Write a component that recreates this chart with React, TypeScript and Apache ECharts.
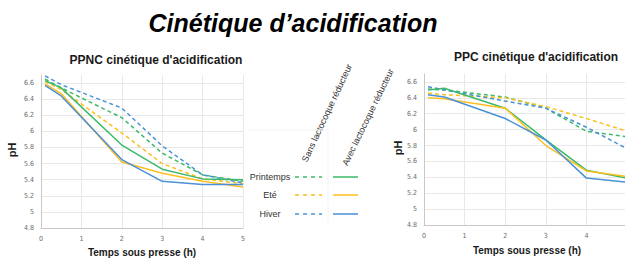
import React, { useEffect, useRef } from "react";
import * as echarts from "echarts";

const timePoints = [0.1, 0.5, 2, 3, 4, 5];

// PPNC (left chart)
const ppncPrintempsSans = [6.65, 6.54, 6.17, 5.73, 5.46, 5.38];
const ppncEteSans = [6.62, 6.52, 5.98, 5.6, 5.41, 5.35];
const ppncHiverSans = [6.69, 6.58, 6.29, 5.82, 5.46, 5.36];
const ppncPrintempsAvec = [6.63, 6.54, 5.83, 5.53, 5.41, 5.4];
const ppncEteAvec = [6.59, 6.47, 5.62, 5.48, 5.38, 5.31];
const ppncHiverAvec = [6.57, 6.44, 5.65, 5.38, 5.34, 5.34];

// PPC (right chart)
const ppcPrintempsSans = [6.51, 6.5, 6.41, 6.27, 5.98, 5.91];
const ppcEteSans = [6.46, 6.44, 6.4, 6.29, 6.14, 5.98];
const ppcHiverSans = [6.54, 6.5, 6.36, 6.27, 6.03, 5.76];
const ppcPrintempsAvec = [6.5, 6.52, 6.27, 5.87, 5.49, 5.39];
const ppcEteAvec = [6.4, 6.39, 6.27, 5.8, 5.48, 5.41];
const ppcHiverAvec = [6.44, 6.41, 6.14, 5.87, 5.39, 5.34];

const seasons = ["Printemps", "Eté", "Hiver"];
const colors = ["#3cb96a", "#fcbf1e", "#4a91d6"];

const mainTitle = "Cinétique d’acidification";
const leftTitle = "PPNC cinétique d'acidification";
const rightTitle = "PPC cinétique d'acidification";
const xAxisTitle = "Temps sous presse (h)";
const yAxisTitle = "pH";
const sansLabel = "Sans lactocoque réducteur";
const avecLabel = "Avec lactocoque réducteur";

const FONT = "Liberation Sans, Arial, Helvetica, sans-serif";
const NARROW = "Liberation Sans Narrow, Arial Narrow, DejaVu Sans Condensed, Liberation Sans, Arial, sans-serif";

const CHART_W = 634;

function pairs(vals: number[]) {
  return timePoints.map((t, i) => [t, vals[i]]);
}

export default function App() {
  const ref = useRef<HTMLDivElement>(null);
  useEffect(() => {
    if (!ref.current) return;
    const chart = echarts.init(ref.current, undefined, { renderer: "svg" });

    const yAxisBase = (gridIndex: number) => ({
      type: "value",
      gridIndex,
      min: 4.8,
      max: 6.7,
      interval: 0.2,
      axisLine: { show: true, lineStyle: { color: "#c8c8c8", width: 1 } },
      axisTick: { show: false },
      axisLabel: {
        showMaxLabel: false,
        fontSize: 7,
        color: "#6a6a6a",
        fontFamily: NARROW,
        margin: 7,
        formatter: (v: number) => String(Math.round(v * 10) / 10),
      },
      splitLine: { show: true, showMaxLine: false, lineStyle: { color: "#e8e8e8", width: 1 } },
    });
    const xAxisBase = (gridIndex: number) => ({
      type: "value",
      gridIndex,
      min: 0,
      max: 5,
      interval: 1,
      axisLine: { show: true, onZero: false, lineStyle: { color: "#c8c8c8", width: 1 } },
      axisTick: { show: false },
      axisLabel: { fontSize: 7, color: "#6a6a6a", fontFamily: NARROW, margin: 7 },
      splitLine: { show: true, lineStyle: { color: "#e8e8e8", width: 1 } },
    });

    const mk = (vals: number[], ci: number, dashed: boolean, gi: number) => ({
      type: "line",
      xAxisIndex: gi,
      yAxisIndex: gi,
      data: pairs(vals),
      symbol: "none",
      clip: false,
      lineStyle: { color: colors[ci], width: 1.5, type: dashed ? [4, 3] : "solid" },
      z: dashed ? 2 : 3,
    });

    const series = [
      mk(ppncPrintempsSans, 0, true, 0),
      mk(ppncEteSans, 1, true, 0),
      mk(ppncHiverSans, 2, true, 0),
      mk(ppncPrintempsAvec, 0, false, 0),
      mk(ppncEteAvec, 1, false, 0),
      mk(ppncHiverAvec, 2, false, 0),
      mk(ppcPrintempsSans, 0, true, 1),
      mk(ppcEteSans, 1, true, 1),
      mk(ppcHiverSans, 2, true, 1),
      mk(ppcPrintempsAvec, 0, false, 1),
      mk(ppcEteAvec, 1, false, 1),
      mk(ppcHiverAvec, 2, false, 1),
    ];

    const legendYs = [177, 195, 214];
    const legendGraphics: any[] = [];
    seasons.forEach((s, i) => {
      legendGraphics.push({
        type: "text",
        x: 270,
        y: legendYs[i],
        style: { text: s, fontSize: 9, fill: "#333", fontFamily: FONT, align: "center", verticalAlign: "middle" },
      });
      legendGraphics.push({
        type: "line",
        shape: { x1: 295, y1: legendYs[i], x2: 322, y2: legendYs[i] },
        style: { stroke: colors[i], lineWidth: 1.5, lineDash: [4, 4] },
      });
      legendGraphics.push({
        type: "line",
        shape: { x1: 333, y1: legendYs[i], x2: 358, y2: legendYs[i] },
        style: { stroke: colors[i], lineWidth: 1.5 },
      });
    });

    const titleStyle = (t: string, size: number) => ({
      text: t,
      fontSize: size,
      fontWeight: "bold",
      fill: "#1a1a1a",
      fontFamily: FONT,
      align: "center",
      verticalAlign: "middle",
    });

    chart.setOption({
      animation: false,
      backgroundColor: "#ffffff",
      grid: [
        { left: 41, top: 75, right: CHART_W - 243, bottom: 33 },
        { left: 424, top: 74, right: CHART_W - 627, bottom: 36 },
      ],
      xAxis: [xAxisBase(0), xAxisBase(1)],
      yAxis: [yAxisBase(0), yAxisBase(1)],
      series,
      graphic: [
        { type: "text", x: 293, y: 23, style: { ...titleStyle(mainTitle, 25), fontStyle: "italic", fill: "#000" } },
        { type: "text", x: 156, y: 60, style: titleStyle(leftTitle, 12) },
        { type: "text", x: 536, y: 57, style: titleStyle(rightTitle, 12) },
        { type: "text", x: 142, y: 252, style: titleStyle(xAxisTitle, 10) },
        { type: "text", x: 527, y: 250, style: titleStyle(xAxisTitle, 10) },
        { type: "text", x: 12, y: 150, rotation: Math.PI / 2, style: titleStyle(yAxisTitle, 11) },
        { type: "text", x: 398, y: 148, rotation: Math.PI / 2, style: titleStyle(yAxisTitle, 11) },
        {
          type: "text",
          x: 327,
          y: 113,
          rotation: (65 * Math.PI) / 180,
          style: { text: sansLabel, fontSize: 9, fill: "#333", fontFamily: FONT, align: "center", verticalAlign: "middle" },
        },
        {
          type: "text",
          x: 368,
          y: 117,
          rotation: (64 * Math.PI) / 180,
          style: { text: avecLabel, fontSize: 9, fill: "#333", fontFamily: FONT, align: "center", verticalAlign: "middle" },
        },
        { type: "line", shape: { x1: 248, y1: 130, x2: 328, y2: 130 }, style: { stroke: "#f3f3f3", lineWidth: 1 } },
        { type: "line", shape: { x1: 328, y1: 130, x2: 328, y2: 222 }, style: { stroke: "#f3f3f3", lineWidth: 1 } },
        ...legendGraphics,
      ],
    });
    return () => chart.dispose();
  }, []);
  return (
    <div style={{ width: 625, height: 261, position: "absolute", left: 0, top: 0, overflow: "hidden" }}>
      <div ref={ref} style={{ width: CHART_W, height: 261 }} />
    </div>
  );
}
